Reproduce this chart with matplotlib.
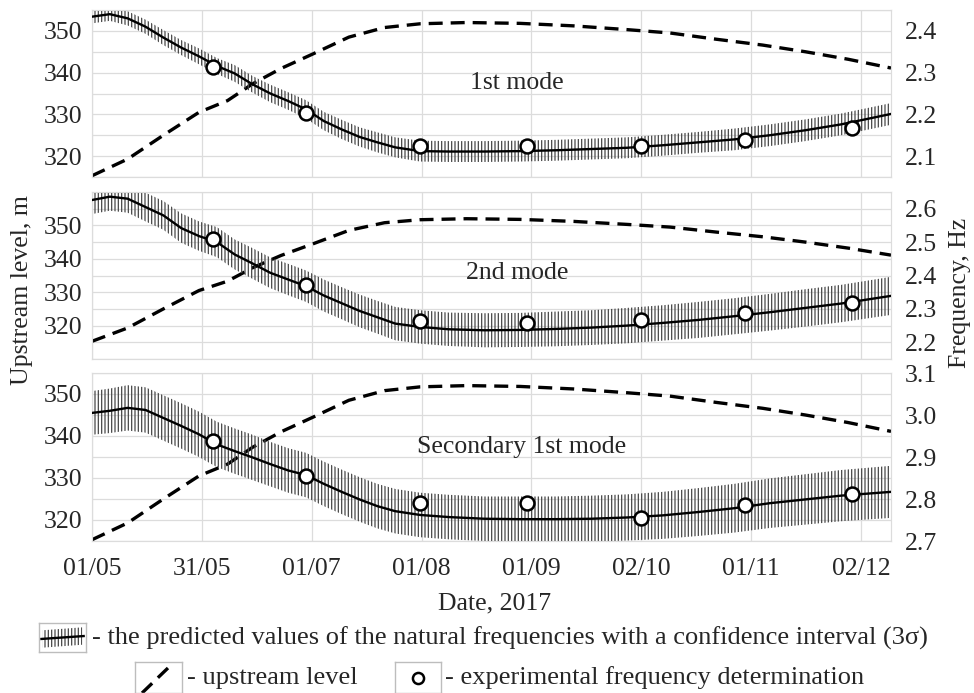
import numpy as np
import matplotlib
matplotlib.use("Agg")
import matplotlib.pyplot as plt
import matplotlib.dates as mdates
from matplotlib.ticker import MultipleLocator, FixedLocator
import datetime as dt

plt.rcParams["font.family"] = ["Liberation Serif", "DejaVu Serif"]
plt.rcParams["hatch.linewidth"] = 0.9

# ---------------- data ----------------
pred_dates = ["2017-05-01", "2017-05-06", "2017-05-11", "2017-05-16", "2017-05-21",
              "2017-05-26", "2017-05-31", "2017-06-05", "2017-06-10", "2017-06-15",
              "2017-06-20", "2017-06-25", "2017-06-30", "2017-07-05", "2017-07-10",
              "2017-07-15", "2017-07-20", "2017-07-25", "2017-08-01", "2017-08-09",
              "2017-08-19", "2017-08-29", "2017-09-08", "2017-09-18", "2017-09-28",
              "2017-10-08", "2017-10-18", "2017-10-28", "2017-11-07", "2017-11-17",
              "2017-11-27", "2017-12-11"]

# predicted natural frequencies, Hz
freq_1st = [2.434, 2.440, 2.430, 2.410, 2.384, 2.360, 2.339, 2.316, 2.298, 2.272,
            2.250, 2.232, 2.212, 2.184, 2.164, 2.146, 2.133, 2.121, 2.112, 2.111,
            2.111, 2.112, 2.114, 2.117, 2.120, 2.126, 2.133, 2.140, 2.150, 2.162,
            2.176, 2.201]
freq_2nd = [2.626, 2.636, 2.630, 2.605, 2.580, 2.542, 2.518, 2.500, 2.463, 2.436,
            2.408, 2.388, 2.368, 2.340, 2.317, 2.294, 2.275, 2.256, 2.246, 2.239,
            2.236, 2.237, 2.240, 2.244, 2.250, 2.258, 2.267, 2.278, 2.290, 2.303,
            2.316, 2.339]
freq_sec = [3.005, 3.010, 3.017, 3.012, 2.993, 2.974, 2.954, 2.930, 2.914, 2.899,
            2.883, 2.868, 2.857, 2.836, 2.817, 2.799, 2.783, 2.771, 2.762, 2.757,
            2.753, 2.752, 2.752, 2.753, 2.756, 2.761, 2.769, 2.778, 2.790, 2.799,
            2.808, 2.817]

# half-width of the 3-sigma confidence interval, Hz
ci_1st = [0.016, 0.016, 0.017, 0.017, 0.018, 0.018, 0.019, 0.019, 0.020, 0.020,
          0.021, 0.021, 0.022, 0.022, 0.023, 0.023, 0.024, 0.024, 0.025, 0.025,
          0.025, 0.025, 0.025, 0.025, 0.025, 0.025, 0.025, 0.026, 0.026, 0.026,
          0.026, 0.026]
ci_2nd = [0.042, 0.042, 0.042, 0.043, 0.043, 0.044, 0.044, 0.045, 0.045, 0.046,
          0.046, 0.047, 0.047, 0.048, 0.048, 0.049, 0.049, 0.050, 0.050, 0.050,
          0.051, 0.051, 0.052, 0.052, 0.053, 0.053, 0.054, 0.054, 0.055, 0.056,
          0.056, 0.057]
ci_sec = [0.052, 0.053, 0.054, 0.054, 0.054, 0.054, 0.054, 0.054, 0.054, 0.054,
          0.053, 0.053, 0.053, 0.053, 0.053, 0.053, 0.053, 0.053, 0.053, 0.053,
          0.053, 0.054, 0.054, 0.055, 0.055, 0.056, 0.057, 0.058, 0.059, 0.060,
          0.061, 0.062]

# upstream level, m
level_dates = ["2017-05-01", "2017-05-11", "2017-05-21", "2017-05-31", "2017-06-08",
               "2017-06-15", "2017-06-23", "2017-07-02", "2017-07-12", "2017-07-22",
               "2017-08-01", "2017-08-14", "2017-08-29", "2017-09-13", "2017-09-28",
               "2017-10-10", "2017-10-23", "2017-11-05", "2017-11-17", "2017-11-29",
               "2017-12-11"]
level = [315.3, 319.3, 325.0, 330.5, 333.3, 337.3, 341.0, 344.5, 348.5, 350.8,
         351.7, 352.0, 351.8, 351.2, 350.3, 349.5, 348.0, 346.6, 345.0, 343.2,
         341.1]

# experimental frequency determinations, Hz
exp_dates = ["2017-06-04", "2017-06-30", "2017-08-01", "2017-08-31", "2017-10-02",
             "2017-10-31", "2017-11-30"]
exp_1st = [2.314, 2.203, 2.125, 2.125, 2.125, 2.139, 2.167]
exp_2nd = [2.509, 2.372, 2.264, 2.258, 2.266, 2.288, 2.318]
exp_sec = [2.938, 2.855, 2.790, 2.790, 2.755, 2.786, 2.812]

x_tick_labels = ["01/05", "31/05", "01/07", "01/08", "01/09", "02/10", "01/11", "02/12"]
x_tick_step_days = 30.8
x_start, x_end = "2017-05-01", "2017-12-11"

panels = [
    dict(name="1st mode", freq=freq_1st, ci=ci_1st, exp=exp_1st,
         level_lim=(315, 355), freq_lim=(2.05, 2.45),
         freq_ticks=[2.1, 2.2, 2.3, 2.4], label_pos=(0.532, 0.563)),
    dict(name="2nd mode", freq=freq_2nd, ci=ci_2nd, exp=exp_2nd,
         level_lim=(310, 360), freq_lim=(2.15, 2.65),
         freq_ticks=[2.2, 2.3, 2.4, 2.5, 2.6], label_pos=(0.532, 0.515)),
    dict(name="Secondary 1st mode", freq=freq_sec, ci=ci_sec, exp=exp_sec,
         level_lim=(315, 355), freq_lim=(2.70, 3.10),
         freq_ticks=[2.7, 2.8, 2.9, 3.0, 3.1], label_pos=(0.538, 0.56)),
]


def to_num(dates):
    return mdates.date2num([dt.datetime.strptime(d, "%Y-%m-%d") for d in dates])


xp = to_num(pred_dates)
xl = to_num(level_dates)
xe = to_num(exp_dates)
x0, x1 = to_num([x_start, x_end])
tick_pos = x0 + np.arange(len(x_tick_labels)) * x_tick_step_days

# ---------------- figure ----------------
W, H = 974, 693
fig = plt.figure(figsize=(W / 100, H / 100), dpi=100)
txt_color = "#262626"
grid_color = "#dcdcdc"
hatch_color = "#484848"
fs = 18.5
level_style = (0, (4.2, 2.4))

boxes = [(10, 177), (192, 359), (373, 541)]
left_px, right_px = 92, 891

for i, (p, (top, bot)) in enumerate(zip(panels, boxes)):
    ax = fig.add_axes([left_px / W, 1 - bot / H, (right_px - left_px) / W, (bot - top) / H])
    axr = ax.twinx()

    # upstream level (left axis)
    ax.plot(xl, level, color="black", lw=2.4, linestyle=level_style, zorder=3)
    ax.set_ylim(*p["level_lim"])
    ax.yaxis.set_major_locator(FixedLocator([320, 330, 340, 350]))
    ax.yaxis.set_minor_locator(MultipleLocator(5))
    ax.set_xlim(x0, x1)
    ax.xaxis.set_major_locator(FixedLocator(tick_pos))
    ax.grid(True, which="both", color=grid_color, lw=0.9)
    ax.set_axisbelow(True)

    # predicted frequency with 3-sigma band (right axis)
    f = np.array(p["freq"])
    c = np.array(p["ci"])
    axr.fill_between(xp, f - c, f + c, facecolor="none", edgecolor=hatch_color,
                     hatch="|||||", linewidth=0, zorder=2)
    axr.plot(xp, f, color="black", lw=1.7, zorder=4)
    axr.plot(xe, p["exp"], linestyle="none", marker="o", markersize=10,
             markerfacecolor="white", markeredgecolor="black", markeredgewidth=1.8,
             zorder=5)
    axr.set_ylim(*p["freq_lim"])
    axr.yaxis.set_major_locator(FixedLocator(p["freq_ticks"]))
    axr.yaxis.set_major_formatter(plt.FuncFormatter(lambda v, _: f"{v:.1f}"))

    for a in (ax, axr):
        for s in a.spines.values():
            s.set_color(grid_color)
        a.tick_params(length=0, labelsize=fs, colors=txt_color)
        a.tick_params(axis="y", which="minor", length=0)
    ax.tick_params(axis="y", pad=7)
    axr.tick_params(axis="y", pad=10)
    ax.tick_params(axis="x", pad=12)

    if i < 2:
        ax.tick_params(axis="x", labelbottom=False)
    else:
        ax.set_xticklabels(x_tick_labels)

    ax.text(*p["label_pos"], p["name"], transform=ax.transAxes, ha="center",
            va="center", fontsize=fs, color=txt_color, zorder=6)

fig.text(22 / W, 1 - 290 / H, "Upstream level, m", rotation=90, ha="center",
         va="center", fontsize=fs, color=txt_color)
fig.text(960 / W, 1 - 293 / H, "Frequency, Hz", rotation=90, ha="center",
         va="center", fontsize=fs, color=txt_color)
fig.text(495 / W, 1 - 603 / H, "Date, 2017", ha="center", va="center",
         fontsize=fs, color=txt_color)

# ---------------- legend ----------------
def icon_axes(x0p, y0p, x1p, y1p):
    a = fig.add_axes([x0p / W, 1 - y1p / H, (x1p - x0p) / W, (y1p - y0p) / H])
    a.set_xlim(0, 1)
    a.set_ylim(0, 1)
    a.set_xticks([])
    a.set_yticks([])
    for s in a.spines.values():
        s.set_color("#bdbdbd")
        s.set_linewidth(1.0)
    return a


ic1 = icon_axes(39, 623, 86, 652)
ic1.fill_between([0.08, 0.92], [0.15, 0.25], [0.75, 0.85], facecolor="none",
                 edgecolor=hatch_color, hatch="|||||", linewidth=0)
ic1.plot([0.05, 0.95], [0.45, 0.55], color="black", lw=1.7)

ic2 = icon_axes(135, 662, 182, 693)
ic2.plot([0.15, 0.8], [0.0, 0.95], color="black", lw=2.4, linestyle=level_style)

ic3 = icon_axes(395, 662, 441, 693)
ic3.plot([0.5], [0.5], marker="o", markersize=8, markerfacecolor="white",
         markeredgecolor="black", markeredgewidth=1.8)

lfs = 19
fig.text(92 / W, 1 - 638 / H,
         "- the predicted values of the natural frequencies with a confidence interval (3σ)",
         ha="left", va="center", fontsize=lfs, color=txt_color)
fig.text(187 / W, 1 - 678 / H, "- upstream level", ha="left", va="center",
         fontsize=lfs, color=txt_color)
fig.text(445 / W, 1 - 678 / H, "- experimental frequency determination", ha="left",
         va="center", fontsize=lfs, color=txt_color)

fig.savefig("out.png", dpi=100, facecolor="white")
